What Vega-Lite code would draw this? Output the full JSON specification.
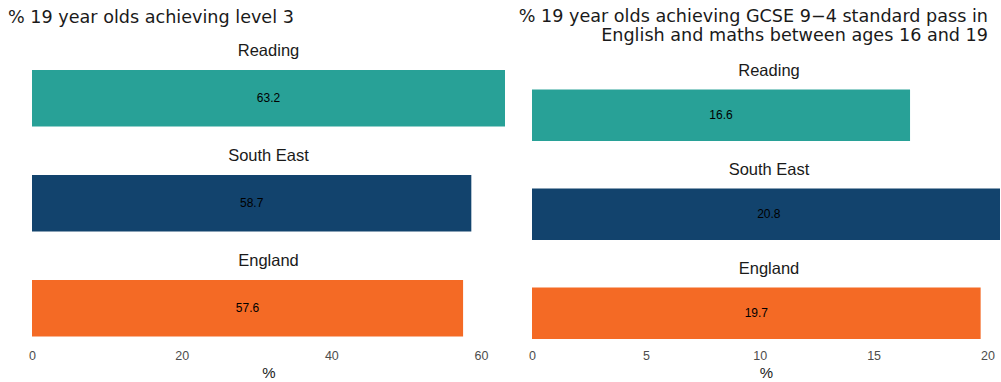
{
  "$schema": "https://vega.github.io/schema/vega-lite/v6.json",
  "padding": {"left": 8, "top": 8, "right": 0, "bottom": 0},
  "autosize": {"type": "pad"},
  "background": "white",
  "spacing": 27,
  "bounds": "flush",
  "config": {
    "view": {"stroke": null},
    "axis": {
      "domain": false, "ticks": false, "tickSize": 0, "grid": false,
      "labelFont": "Liberation Sans", "labelFontSize": 12.5, "labelColor": "#4d4d4d",
      "labelPadding": 7, "labelFlush": false,
      "titleFont": "Liberation Sans", "titleFontSize": 15, "titleFontWeight": "normal",
      "titleColor": "#1a1a1a", "titlePadding": 3
    }
  },
  "hconcat": [
    {
      "width": 473,
      "height": 278.5,
      "title": {
        "text": "% 19 year olds achieving level 3",
        "anchor": "start", "frame": "group", "dx": -24, "offset": 16,
        "font": "DejaVu Sans", "fontSize": 17.6, "fontWeight": "normal", "color": "#1a1a1a"
      },
      "data": {"values": [
        {"region": "Reading", "value": 63.2},
        {"region": "South East", "value": 58.7},
        {"region": "England", "value": 57.6}
      ]},
      "layer": [
        {
          "mark": {"type": "bar"},
          "encoding": {
            "y": {"field": "region", "type": "nominal", "sort": ["Reading", "South East", "England"], "axis": null,
                  "scale": {"paddingInner": 0.4619, "paddingOuter": 0.0571, "align": 0.5}},
            "x": {"field": "value", "type": "quantitative", "scale": {"nice": false, "zero": true},
                  "axis": {"values": [0, 20, 40, 60], "title": "%"}},
            "color": {"field": "region", "type": "nominal", "legend": null,
                      "scale": {"domain": ["Reading", "South East", "England"], "range": ["#28a197", "#12436d", "#f46a25"]}}
          }
        },
        {
          "transform": [
            {"stack": "value", "groupby": ["region"], "as": ["v0", "v1"]},
            {"fold": ["v0", "v1"], "as": ["edge", "pos"]}
          ],
          "mark": {"type": "text", "font": "Liberation Sans", "fontSize": 12, "color": "#000000"},
          "encoding": {
            "y": {"field": "region", "type": "nominal", "sort": ["Reading", "South East", "England"], "axis": null},
            "x": {"field": "pos", "type": "quantitative", "aggregate": "mean",
                  "axis": {"values": [0, 20, 40, 60], "title": "%"}},
            "text": {"field": "value", "type": "quantitative", "aggregate": "max"}
          }
        },
        {
          "mark": {"type": "text", "font": "Liberation Sans", "fontSize": 16.5, "color": "#1a1a1a", "baseline": "alphabetic", "dy": -14},
          "encoding": {
            "y": {"field": "region", "type": "nominal", "sort": ["Reading", "South East", "England"], "axis": null, "bandPosition": 0},
            "text": {"field": "region", "type": "nominal"}
          }
        }
      ]
    },
    {
      "width": 468,
      "height": 278.5,
      "title": {
        "text": ["% 19 year olds achieving GCSE 9\u22124 standard pass in", "English and maths between ages 16 and 19"],
        "anchor": "end", "frame": "group", "dx": -12, "offset": 18.6, "lineHeight": 19,
        "font": "DejaVu Sans", "fontSize": 17.6, "fontWeight": "normal", "color": "#1a1a1a"
      },
      "data": {"values": [
        {"region": "Reading", "value": 16.6},
        {"region": "South East", "value": 20.8},
        {"region": "England", "value": 19.7}
      ]},
      "layer": [
        {
          "mark": {"type": "bar", "clip": true},
          "encoding": {
            "y": {"field": "region", "type": "nominal", "sort": ["Reading", "South East", "England"], "axis": null,
                  "scale": {"paddingInner": 0.4798, "paddingOuter": 0.1465, "align": 0.879}},
            "x": {"field": "value", "type": "quantitative", "scale": {"domain": [0, 20.55], "nice": false, "zero": true},
                  "axis": {"values": [0, 5, 10, 15, 20], "title": "%"}},
            "color": {"field": "region", "type": "nominal", "legend": null,
                      "scale": {"domain": ["Reading", "South East", "England"], "range": ["#28a197", "#12436d", "#f46a25"]}}
          }
        },
        {
          "transform": [
            {"stack": "value", "groupby": ["region"], "as": ["v0", "v1"]},
            {"fold": ["v0", "v1"], "as": ["edge", "pos"]}
          ],
          "mark": {"type": "text", "font": "Liberation Sans", "fontSize": 12, "color": "#000000"},
          "encoding": {
            "y": {"field": "region", "type": "nominal", "sort": ["Reading", "South East", "England"], "axis": null},
            "x": {"field": "pos", "type": "quantitative", "aggregate": "mean",
                  "axis": {"values": [0, 5, 10, 15, 20], "title": "%"}},
            "text": {"field": "value", "type": "quantitative", "aggregate": "max"}
          }
        },
        {
          "mark": {"type": "text", "font": "Liberation Sans", "fontSize": 16.5, "color": "#1a1a1a", "baseline": "alphabetic", "dy": -13, "dx": 3},
          "encoding": {
            "y": {"field": "region", "type": "nominal", "sort": ["Reading", "South East", "England"], "axis": null, "bandPosition": 0},
            "text": {"field": "region", "type": "nominal"}
          }
        }
      ]
    }
  ]
}
